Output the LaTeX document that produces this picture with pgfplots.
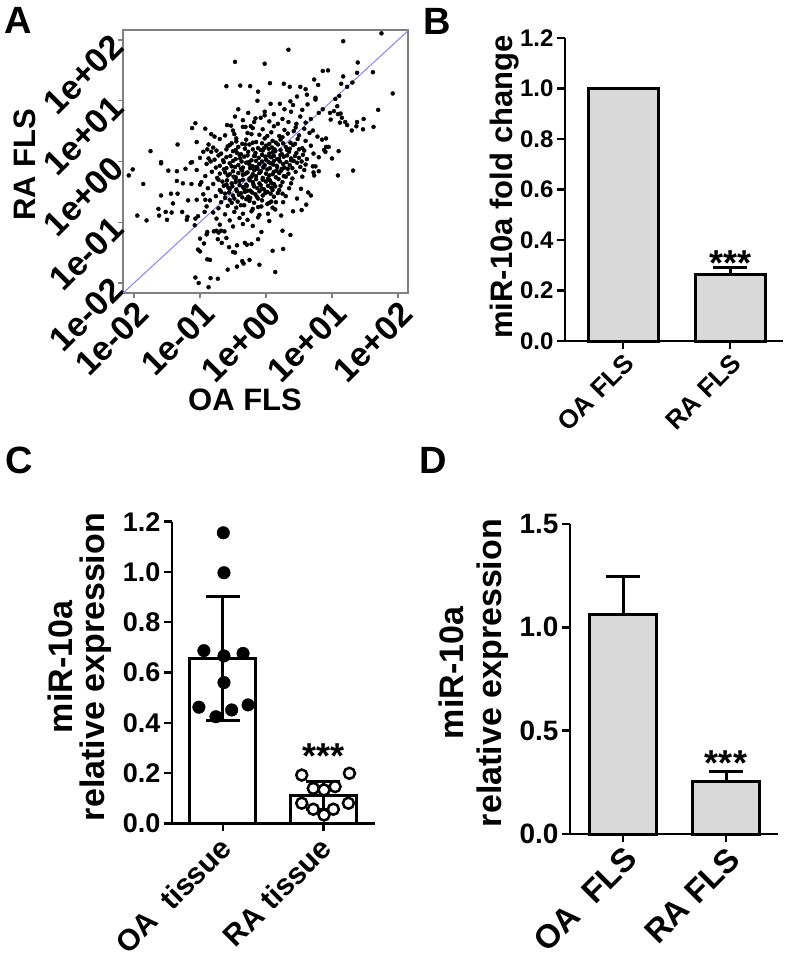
\documentclass[border=0pt]{standalone}
\usepackage{fontspec}
\setmainfont{Liberation Sans}
\usepackage{pgfplots}
\pgfplotsset{compat=1.18}

\definecolor{bargray}{RGB}{217,217,217}
\definecolor{boxgray}{RGB}{128,128,128}
\definecolor{diagblue}{RGB}{130,130,250}
\newcommand\fs[1]{\fontsize{#1}{#1}\selectfont\bfseries}

\pgfplotsset{
  barpanel/.style={
    scale only axis,
    axis x line=bottom, axis y line=left,
    axis line style={-, line width=2.5pt, black},
    tick style={line width=2.5pt, black},
    tick align=outside, major tick length=8pt,
    xtick={0,1}, ymin=0, clip=false,
    /pgf/number format/fixed, /pgf/number format/fixed zerofill,
    /pgf/number format/precision=1, /pgf/number format/assume math mode=true,
    xticklabel style={rotate=45, anchor=north east, inner sep=2pt},
  },
  bars/.style={ybar, bar width=#1, fill=bargray, draw=black, line width=3pt},
  errs/.style={draw=none, mark=none, forget plot,
    error bars/y dir=#1, error bars/y explicit,
    error bars/error bar style={draw=black, line width=3pt},
    error bars/error mark options={rotate=90, mark size=17pt, line width=3pt, draw=black}},
}

\begin{document}
\begin{tikzpicture}
\path[use as bounding box] (0pt,0pt) rectangle (787pt,-957pt);

% ---------------- A: scatter, log10 values ----------------
\begin{axis}[
  at={(123pt,-293pt)}, anchor=south west,
  scale only axis, width=285pt, height=263pt,
  xmin=-2.167, xmax=2.152, ymin=-2.165, ymax=2.165,
  axis line style={boxgray, line width=1.3pt},
  tick style={boxgray, line width=1.3pt},
  tick align=outside, major tick length=5pt, tick pos=left,
  xtick={-2,-1,0,1,2}, ytick={-2,-1,0,1,2},
  xticklabels={1e-02,1e-01,1e+00,1e+01,1e+02},
  yticklabels={1e-02,1e-01,1e+00,1e+01,1e+02},
  ticklabel style={font=\fs{34}, black},
  xticklabel style={rotate=45, anchor=north east, inner sep=1pt},
  yticklabel style={rotate=45, anchor=east, inner sep=1pt},
]
\addplot[only marks, mark=*, mark size=2pt, black] coordinates {
(-0.35,0.57) (-0.05,0.53) (0.12,0.58) (0.28,0.52) (0.45,0.56) (0.58,0.54)
(-0.62,0.43) (-0.28,0.47) (-0.10,0.44) (0.08,0.48) (0.20,0.42) (0.33,0.46) (0.50,0.43) (0.66,0.47)
(-0.70,0.37) (-0.45,0.33) (-0.30,0.36) (-0.15,0.32) (-0.02,0.38) (0.10,0.34) (0.22,0.36) (0.37,0.31) (0.48,0.37) (0.60,0.34) (0.85,0.36)
(-0.80,0.23) (-0.55,0.27) (-0.42,0.24) (-0.25,0.28) (-0.12,0.22) (0.00,0.26) (0.09,0.23) (0.18,0.28) (0.30,0.24) (0.41,0.27) (0.55,0.22) (0.68,0.26) (0.95,0.24)
(-0.95,0.16) (-0.68,0.13) (-0.50,0.17) (-0.38,0.12) (-0.27,0.16) (-0.16,0.14) (-0.05,0.18) (0.05,0.13) (0.14,0.17) (0.24,0.12) (0.35,0.16) (0.46,0.14) (0.58,0.18) (0.72,0.13) (0.90,0.16)
(-1.00,0.06) (-0.78,0.03) (-0.60,0.07) (-0.46,0.04) (-0.33,0.08) (-0.22,0.02) (-0.11,0.06) (0.00,0.03) (0.08,0.07) (0.17,0.04) (0.27,0.08) (0.38,0.02) (0.50,0.06) (0.62,0.04) (0.80,0.07) (1.00,0.05)
(-0.90,-0.04) (-0.70,-0.07) (-0.55,-0.03) (-0.42,-0.06) (-0.30,-0.02) (-0.20,-0.08) (-0.10,-0.04) (-0.02,-0.06) (0.07,-0.03) (0.16,-0.07) (0.26,-0.04) (0.36,-0.06) (0.47,-0.02) (0.60,-0.05) (0.75,-0.08)
(-1.05,-0.14) (-0.82,-0.17) (-0.64,-0.13) (-0.50,-0.16) (-0.38,-0.12) (-0.28,-0.18) (-0.18,-0.14) (-0.08,-0.16) (0.02,-0.13) (0.12,-0.17) (0.23,-0.15) (0.33,-0.12) (0.45,-0.17) (0.58,-0.14) (0.80,-0.16)
(-0.92,-0.24) (-0.74,-0.27) (-0.58,-0.23) (-0.46,-0.26) (-0.35,-0.22) (-0.25,-0.28) (-0.15,-0.24) (-0.05,-0.27) (0.05,-0.23) (0.15,-0.26) (0.27,-0.24) (0.40,-0.28) (0.55,-0.25)
(-0.98,-0.34) (-0.80,-0.37) (-0.66,-0.33) (-0.52,-0.36) (-0.40,-0.32) (-0.30,-0.38) (-0.20,-0.34) (-0.10,-0.36) (0.00,-0.33) (0.12,-0.37) (0.25,-0.34) (0.38,-0.36)
(-0.88,-0.44) (-0.70,-0.47) (-0.57,-0.43) (-0.45,-0.46) (-0.35,-0.42) (-0.24,-0.48) (-0.13,-0.44) (-0.03,-0.46) (0.08,-0.43) (0.20,-0.47) (0.35,-0.44)
(-0.95,-0.54) (-0.76,-0.57) (-0.62,-0.53) (-0.50,-0.56) (-0.38,-0.52) (-0.27,-0.58) (-0.16,-0.54) (-0.05,-0.56) (0.07,-0.53) (0.30,-0.57)
(-0.85,-0.64) (-0.68,-0.67) (-0.55,-0.63) (-0.43,-0.66) (-0.30,-0.62) (-0.18,-0.68) (-0.06,-0.64) (0.08,-0.66)
(-0.90,-0.74) (-0.72,-0.77) (-0.58,-0.73) (-0.45,-0.76) (-0.33,-0.72) (-0.20,-0.78) (-0.07,-0.74) (0.10,-0.76)
(-0.80,-0.84) (-0.62,-0.87) (-0.48,-0.83) (-0.35,-0.86) (-0.22,-0.82) (-0.10,-0.88)
(-0.75,-0.94) (-0.55,-0.97) (-0.40,-0.93) (-0.28,-0.96) (-0.12,-0.92) (0.05,-0.98)
(-0.70,-1.04) (-0.50,-1.07) (-0.35,-1.03) (-0.20,-1.06)
(-0.52,0.30) (-0.36,0.29) (-0.20,0.31) (-0.06,0.30) (0.05,0.29) (0.15,0.31) (0.26,0.30) (0.44,0.29)
(-0.60,0.20) (-0.46,0.19) (-0.32,0.21) (-0.20,0.20) (-0.08,0.19) (0.04,0.21) (0.13,0.20) (0.22,0.19) (0.36,0.21) (0.50,0.20)
(-0.72,0.10) (-0.54,0.09) (-0.40,0.11) (-0.28,0.10) (-0.17,0.09) (-0.06,0.11) (0.04,0.10) (0.12,0.09) (0.22,0.11) (0.32,0.10) (0.44,0.09) (0.56,0.11)
(-0.84,0.00) (-0.64,-0.01) (-0.50,0.01) (-0.37,0.00) (-0.26,-0.01) (-0.15,0.01) (-0.06,0.00) (0.04,-0.01) (0.12,0.01) (0.21,0.00) (0.31,-0.01) (0.42,0.01) (0.54,0.00)
(-0.76,-0.10) (-0.60,-0.11) (-0.47,-0.09) (-0.35,-0.10) (-0.24,-0.11) (-0.14,-0.09) (-0.04,-0.10) (0.06,-0.11) (0.17,-0.09) (0.28,-0.10) (0.40,-0.11) (0.52,-0.09)
(-0.70,-0.20) (-0.55,-0.21) (-0.42,-0.19) (-0.31,-0.20) (-0.20,-0.21) (-0.10,-0.19) (0.00,-0.20) (0.10,-0.21) (0.20,-0.19) (0.34,-0.20)
(-0.72,-0.30) (-0.59,-0.31) (-0.46,-0.29) (-0.35,-0.30) (-0.25,-0.31) (-0.15,-0.29) (-0.05,-0.30) (0.06,-0.31) (0.19,-0.29)
(-0.64,-0.40) (-0.51,-0.41) (-0.40,-0.39) (-0.29,-0.40) (-0.18,-0.41) (-0.08,-0.39) (0.03,-0.40) (0.14,-0.41)
(-0.68,-0.50) (-0.56,-0.51) (-0.44,-0.49) (-0.32,-0.50) (-0.21,-0.51) (-0.10,-0.49) (0.02,-0.50)
(-0.62,-0.60) (-0.48,-0.61) (-0.36,-0.59) (-0.24,-0.60) (-0.12,-0.61)
(-0.58,0.25) (-0.44,0.14) (-0.31,0.28) (-0.18,0.09) (-0.03,0.22) (0.10,0.15) (0.20,0.05) (0.32,0.19)
(-0.65,0.02) (-0.52,-0.08) (-0.39,0.05) (-0.25,-0.05) (-0.13,-0.12) (-0.01,0.08) (0.11,-0.05) (0.24,-0.12) (0.38,0.05)
(-0.62,-0.18) (-0.49,-0.25) (-0.36,-0.15) (-0.22,-0.25) (-0.09,-0.18) (0.03,-0.28) (0.16,-0.15) (0.30,-0.25)
(-0.60,-0.38) (-0.46,-0.34) (-0.33,-0.45) (-0.19,-0.38) (-0.06,-0.45) (0.08,-0.35) (0.22,-0.40)
(-0.55,-0.46) (-0.41,-0.55) (-0.28,-0.48) (-0.14,-0.58) (-0.01,-0.52) (0.12,-0.58)
(-0.52,-0.68) (-0.38,-0.72) (-0.25,-0.65) (-0.12,-0.75) (0.02,-0.70)
(-0.45,0.38) (-0.22,0.45) (0.02,0.42) (0.25,0.40) (0.42,0.50)
(0.12,0.78) (0.25,0.70) (0.38,0.82) (0.52,0.74) (0.60,0.64) (0.05,0.66) (0.18,0.62) (0.34,0.65)
(0.46,0.62) (0.68,0.70) (0.28,0.86) (0.55,0.85) (-0.35,0.68) (-0.27,0.80) (-0.08,0.72) (-0.42,0.86)
(-0.47,1.64) (-0.02,1.61) (-0.60,1.24) (-0.39,1.25) (-0.24,1.24) (-0.12,1.15) (-0.13,1.00) (-0.02,0.82)
(-0.02,0.76) (-0.47,0.74) (-0.16,0.71) (-0.18,0.65) (-1.07,0.63) (-1.12,0.55) (-0.92,0.54) (-0.59,0.60)
(-0.53,0.59) (-0.31,0.57) (-0.23,0.58) (-0.20,0.55) (-0.50,0.51) (-0.48,0.45) (-0.83,0.45) (-0.78,0.41)
(-0.87,0.28) (-0.89,0.20) (-0.83,0.16) (-0.75,0.18) (-0.87,0.05) (-1.34,0.28) (-1.05,0.32) (-1.75,0.17)
(-1.59,-0.01) (-1.12,-0.01)
(1.75,2.11) (1.17,1.98) (0.34,1.84) (1.39,1.63) (0.86,1.49) (0.94,1.50) (1.17,1.40) (1.38,1.46)
(1.62,1.47) (0.73,1.35) (0.79,1.26) (0.06,1.29) (0.27,1.28) (0.36,1.23) (0.52,1.23) (0.60,1.19)
(1.14,1.28) (1.23,1.23) (1.31,1.30) (1.92,1.12) (0.47,1.07) (0.62,1.10) (0.75,1.05) (0.75,1.02)
(1.05,1.03) (1.11,1.08) (0.07,0.95) (0.21,0.95) (0.37,0.99) (0.41,0.93) (0.63,0.94) (1.08,0.91)
(0.80,0.80) (0.86,0.86) (0.97,0.80) (1.03,0.83) (1.70,0.85) (1.09,0.78) (1.13,0.79) (1.15,0.72)
(0.98,0.69) (1.12,0.64) (1.20,0.65) (1.23,0.60) (1.38,0.65) (1.48,0.70) (1.37,0.58) (1.30,0.51)
(1.47,0.53) (1.63,0.57) (1.10,0.17) (0.91,0.24) (0.88,0.19) (0.91,0.38) (0.78,0.41) (0.71,0.51)
(-2.08,-0.23) (-2.02,-0.13) (-1.86,-0.37) (-1.59,-0.03) (-1.95,-0.89) (-1.81,-0.97) (-1.48,-0.15) (-1.35,-0.16)
(-1.22,-0.12) (-1.14,-0.02) (-1.35,-0.32) (-1.26,-0.36) (-1.13,-0.37) (-1.00,-0.38) (-1.59,-0.56) (-1.44,-0.53)
(-1.34,-0.53) (-1.63,-0.78) (-1.62,-0.89) (-1.52,-0.83) (-1.43,-0.84) (-1.50,-0.96) (-1.27,-0.83) (-1.19,-0.91)
(-1.20,-0.96) (-1.07,-0.94) (-1.03,-0.90) (-0.93,-0.83) (-1.41,-0.69) (-1.18,-0.64) (-1.05,-0.63) (-0.92,-0.63)
(-1.08,-1.05) (-1.00,-1.27) (-0.89,-1.16) (-0.94,-1.35) (-1.03,-1.45) (-0.89,-1.61) (-0.85,-1.62) (-1.07,-1.91)
(-1.02,-2.00) (-0.84,-1.92) (-0.87,-2.07) (-0.73,-1.93) (-0.58,-1.78) (-0.44,-1.73) (-0.36,-1.64) (-0.34,-1.68)
(-0.25,-1.62) (-0.10,-1.70) (-0.73,-1.28) (-0.67,-1.34) (-0.60,-1.26) (-0.56,-1.41) (-0.50,-1.49) (-0.44,-1.38)
(-0.32,-1.34) (-0.22,-1.36) (-0.12,-1.28) (-0.07,-1.16) (-0.79,-1.15) (-0.75,-1.14) (-0.68,-1.14) (-0.63,-1.15)
(-0.90,-1.20) (-0.72,-1.17) (-1.00,-1.48) (-0.47,-1.50) (-0.29,-1.37)
(1.09,-0.23) (1.32,-0.15) (0.64,-0.51) (0.68,-0.56) (0.53,-0.45) (0.47,-0.61) (0.61,-0.71) (0.54,-0.80)
(0.41,-0.82) (0.26,-0.67) (0.15,-0.67) (0.05,-0.68) (0.14,-0.79) (0.23,-0.89) (0.03,-0.86) (0.25,-1.14)
(0.37,-1.21) (0.10,-1.47) (0.26,-1.44) (0.14,-1.82) (0.10,-0.47) (0.18,-0.52) (0.25,-0.53) (0.72,-0.18)
(0.73,-0.23) (0.71,-0.08)
};
\addplot[diagblue, line width=1pt] coordinates {(-2.2,-2.2) (2.2,2.2)};
\end{axis}
\node[font=\fs{38}] at (18pt,-20pt) {A};
\node[font=\fs{31}, rotate=90] at (25pt,-165pt) {RA FLS};
\node[font=\fs{31}] at (245pt,-400pt) {OA FLS};

% ---------------- B ----------------
\begin{axis}[barpanel,
  at={(565pt,-341pt)}, anchor=south west,
  width=218pt, height=303pt,
  xmin=-0.542, xmax=1.495, ymax=1.2,
  ytick={0,0.2,0.4,0.6,0.8,1.0,1.2},
  xticklabels={OA FLS, RA FLS},
  yticklabel style={font=\fs{24}},
  xticklabel style={font=\fs{26}},
]
\addplot[bars=70pt] coordinates {(0,1.0) (1,0.265)};
\addplot[errs=plus] coordinates {(1,0.265) +- (0,0.025)};
\node[font=\fs{36}, anchor=base, inner sep=0pt] at (axis cs:1,0.259) {***};
\end{axis}
\node[font=\fs{38}] at (437pt,-21pt) {B};
\node[font=\fs{31}, rotate=90, anchor=base] at (512pt,-187pt) {miR-10a fold change};

% ---------------- C ----------------
\begin{axis}[barpanel,
  at={(172pt,-823.3pt)}, anchor=south west,
  width=203pt, height=301.6pt,
  xmin=-0.508, xmax=1.515, ymax=1.2,
  ytick={0,0.2,0.4,0.6,0.8,1.0,1.2},
  xticklabels={OA\ \ tissue, RA tissue},
  yticklabel style={font=\fs{27}},
  xticklabel style={font=\fs{30}, xshift=-4pt, yshift=3pt},
]
\addplot[bars=66pt, fill=white] coordinates {(0,0.655) (1,0.111)};
\addplot[only marks, mark=*, mark size=6.3pt, black] coordinates {
(0.003,1.156) (0.01,0.997) (-0.19,0.687) (0.01,0.666) (0.20,0.676)
(0.01,0.560) (-0.24,0.462) (0.087,0.451) (-0.07,0.424) (0.25,0.471)};
\addplot[only marks, mark=*, mark size=5.5pt, black, line width=2.5pt,
  mark options={fill=white}] coordinates {
(0.785,0.192) (1.26,0.199) (0.90,0.139) (1.117,0.146) (1.007,0.133)
(0.785,0.080) (1.25,0.080) (0.90,0.056) (1.10,0.056) (1.007,0.033)};
\addplot[errs=both] coordinates {(0,0.655) +- (0,0.247) (1,0.111) +- (0,0.055)};
\node[font=\fs{36}, anchor=base, inner sep=0pt] at (axis cs:1,0.218) {***};
\end{axis}
\node[font=\fs{38}] at (19pt,-460pt) {C};
\node[font=\fs{34}, rotate=90, anchor=base] at (72pt,-667pt) {miR-10a};
\node[font=\fs{34}, rotate=90, anchor=base] at (104pt,-667pt) {relative expression};

% ---------------- D ----------------
\begin{axis}[barpanel,
  at={(570pt,-834pt)}, anchor=south west,
  width=208pt, height=310pt,
  xmin=-0.515, xmax=1.505, ymax=1.5,
  ytick={0,0.5,1.0,1.5},
  xticklabels={OA\ \ FLS, RA FLS},
  yticklabel style={font=\fs{28}},
  xticklabel style={font=\fs{33}},
]
\addplot[bars=67pt] coordinates {(0,1.06) (1,0.253)};
\addplot[errs=plus] coordinates {(0,1.06) +- (0,0.185) (1,0.253) +- (0,0.048)};
\node[font=\fs{36}, anchor=base, inner sep=0pt] at (axis cs:1,0.283) {***};
\end{axis}
\node[font=\fs{38}] at (433pt,-460pt) {D};
\node[font=\fs{34}, rotate=90, anchor=base] at (463pt,-673pt) {miR-10a};
\node[font=\fs{34}, rotate=90, anchor=base] at (501pt,-673pt) {relative expression};
\end{tikzpicture}
\end{document}
